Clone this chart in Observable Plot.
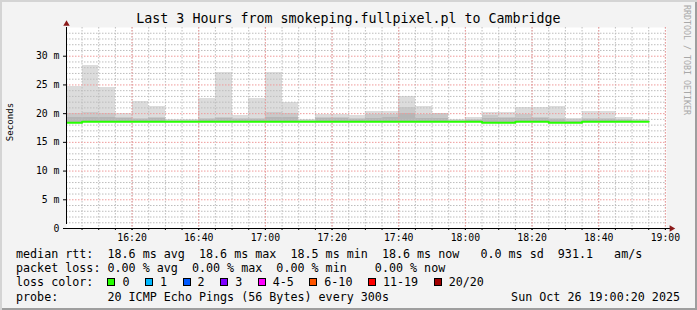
<!DOCTYPE html>
<html>
<head>
<meta charset="utf-8">
<script src="https://cdn.jsdelivr.net/npm/d3@7"></script>
<script src="https://cdn.jsdelivr.net/npm/@observablehq/plot@0.6"></script>
<style>
html,body{margin:0;padding:0;background:#f3f3f3;}
#chart{position:relative;width:697px;height:310px;background:#f3f3f3;overflow:hidden;
  box-shadow:inset 2px 2px 0 #d4d4d4, inset -2px -2px 0 #9e9e9e;
  font-family:"DejaVu Sans Mono",monospace;color:#000;}
#chart svg{position:absolute;left:0;top:0;}
#title{position:absolute;left:0;top:11px;width:697px;text-align:center;font-size:13.3px;line-height:16px;white-space:pre;}
.rot{position:absolute;white-space:pre;transform:translate(-50%,-50%) rotate(-90deg);}
#ylabel{left:10px;top:122px;font-size:9.1px;}
#wm{left:687px;top:60px;font-size:8.3px;color:#a8a8a8;transform:translate(-50%,-50%) rotate(90deg);}
#legend{position:absolute;left:16px;top:247px;font-size:11.7px;line-height:14.2px;white-space:pre;margin:0;}
#legend .row{height:14.2px;display:flex;align-items:center;}
.box{display:inline-block;width:8px;height:8px;box-sizing:border-box;border:1px solid #000;margin-right:7px;}
.lab{margin-right:15.5px;}
#date{position:absolute;right:17px;top:289.6px;font-size:11.7px;line-height:14.2px;white-space:pre;}
</style>
</head>
<body>
<div id="chart">
  <div id="title"></div>
  <div id="ylabel" class="rot"></div>
  <div id="wm" class="rot"></div>
  <div id="legend"></div>
  <div id="date"></div>
</div>
<script>
// ---- data (ms), one value per 5-minute slot starting 16:00 UTC ----
const titleText = "Last 3 Hours from smokeping.fullpixel.pl to Cambridge";
const yLabel = "Seconds";
const watermark = "RRDTOOL / TOBI OETIKER";
const slotStart = "2025-10-26T16:00:00Z";
const viewStart = "2025-10-26T16:00:20Z";
const viewEnd = "2025-10-26T19:00:20Z";

const maxRtt = [24.8, 28.4, 24.6, 20.1, 22.2, 21.2, 19.0, 19.0, 22.7, 27.1, 19.7, 22.7, 27.1, 22.0, 19.0, 19.8, 19.8, 19.7, 20.4, 20.3, 22.9, 21.3, 20.05, 18.9, 19.4, 20.2, 20.2, 21.0, 21.1, 21.3, 19.1, 20.4, 20.4, 19.4, 19.0];
const ping19 = [20.1, 20.2, 20.0, 19.4, 19.2, 19.4, 18.8, 18.8, 19.2, 19.4, 19.1, 19.2, 20.2, 20.1, 18.8, 19.4, 19.4, 19.1, 19.8, 19.9, 21.0, 19.8, 20.0, 18.8, 19.0, 19.6, 19.4, 19.8, 19.4, 19.1, 18.9, 19.1, 19.2, 19.0, 18.8];
const ping18 = [19.4, 19.4, 19.4, 19.1, 19.0, 19.1, 18.7, 18.7, 19.0, 19.1, 18.9, 19.0, 19.4, 19.3, 18.7, 19.1, 19.1, 18.9, 19.2, 19.4, 20.05, 19.2, 19.2, 18.7, 18.8, 19.2, 19.1, 19.2, 19.1, 18.9, 18.7, 18.9, 18.9, 18.8, 18.7];
const medianRtt = [18.4, 18.6, 18.6, 18.6, 18.6, 18.6, 18.6, 18.6, 18.6, 18.6, 18.6, 18.6, 18.6, 18.6, 18.6, 18.6, 18.6, 18.6, 18.6, 18.6, 18.6, 18.6, 18.6, 18.6, 18.6, 18.4, 18.4, 18.6, 18.6, 18.4, 18.4, 18.6, 18.6, 18.6, 18.6];

const yTicks = [0, 5, 10, 15, 20, 25, 30];
const xTickLabels = ["16:20", "16:40", "17:00", "17:20", "17:40", "18:00", "18:20", "18:40", "19:00"];

const legendLine1 = "median rtt:  18.6 ms avg  18.6 ms max  18.5 ms min  18.6 ms now   0.0 ms sd  931.1   am/s";
const legendLine2 = "packet loss: 0.00 % avg  0.00 % max  0.00 % min    0.00 % now";
const lossLabels = ["0", "1", "2", "3", "4-5", "6-10", "11-19", "20/20"];
const lossColors = ["#26ff00", "#00b8ff", "#0059ff", "#7e00ff", "#ff00ff", "#ff5500", "#ff0000", "#a00000"];
const legendLine4 = "probe:       20 ICMP Echo Pings (56 Bytes) every 300s";
const dateText = "Sun Oct 26 19:00:20 2025";

// ---- build ----
const step = 5 * 60 * 1000;
const t0 = new Date(slotStart);
const rows = maxRtt.map((m, i) => ({
  t1: new Date(+t0 + i * step), t2: new Date(+t0 + (i + 1) * step),
  max: m, p19: ping19[i], p18: ping18[i], med: medianRtt[i]
}));
const medLine = rows.map(r => ({t: r.t1, v: r.med}));
medLine.push({t: rows[rows.length - 1].t2, v: rows[rows.length - 1].med});

const xMajor = xTickLabels.map(s => new Date(`2025-10-26T${s}:00Z`));
const xMinor = d3.utcMinute.every(5).range(new Date(viewStart), new Date(viewEnd));
const yMinor = d3.range(1, 36).filter(v => v % 5 !== 0);
const fmtTime = d3.utcFormat("%H:%M");

const minorGrid = {stroke: "#bdbdbd", strokeOpacity: 1, strokeDasharray: "1.5,1.5"};
const majorGrid = {stroke: "#ef9a9a", strokeOpacity: 1, strokeDasharray: "1.5,1.5"};

const chart = Plot.plot({
  width: 697, height: 250,
  marginLeft: 66, marginRight: 31, marginTop: 27, marginBottom: 22,
  style: {background: "transparent", fontFamily: '"DejaVu Sans Mono", monospace', fontSize: "9.8px", color: "#000", overflow: "visible"},
  x: {type: "utc", domain: [new Date(viewStart), new Date(viewEnd)], label: null},
  y: {domain: [0, 35], label: null},
  marks: [
    Plot.frame({fill: "white", stroke: "none"}),
    Plot.rectY(rows, {x1: "t1", x2: "t2", y1: "med", y2: "max", fill: "#dcdcdc", clip: true, shapeRendering: "crispEdges"}),
    Plot.rectY(rows, {x1: "t1", x2: "t2", y1: "med", y2: "p19", fill: "#c9c9c9", clip: true, shapeRendering: "crispEdges"}),
    Plot.rectY(rows, {x1: "t1", x2: "t2", y1: "med", y2: "p18", fill: "#b6b6b6", clip: true, shapeRendering: "crispEdges"}),
    Plot.gridY(yMinor, minorGrid),
    Plot.gridX(xMinor, minorGrid),
    Plot.gridY(yTicks.filter(v => v > 0), majorGrid),
    Plot.gridX(xMajor, majorGrid),
    Plot.line(medLine, {x: "t", y: "v", curve: "step-after", stroke: "#26ff00", strokeWidth: 2, clip: true}),
    Plot.ruleY([0], {stroke: "#000", insetLeft: -3, insetRight: -5}),
    Plot.ruleX([new Date(viewStart)], {y1: 0, y2: 35, stroke: "#000", insetTop: -4}),
    Plot.dot([0], {frameAnchor: "top-left", symbol: "triangle", r: 2.4, fill: "#8b1a1a", stroke: "none", dy: -3.5}),
    Plot.dot([0], {frameAnchor: "bottom-right", symbol: "triangle", r: 2.4, fill: "#8b1a1a", stroke: "none", dx: 5, rotate: 90}),
    Plot.axisY({ticks: yTicks, tickSize: 3, tickPadding: 4, tickFormat: v => v === 0 ? "0" : `${v} m`, label: null}),
    Plot.axisX({ticks: xMinor, tickSize: 2, tickFormat: () => "", label: null}),
    Plot.axisX({ticks: xMajor, tickSize: 2, tickPadding: 4, tickFormat: fmtTime, label: null})
  ]
});
document.getElementById("chart").appendChild(chart);

document.getElementById("title").textContent = titleText;
document.getElementById("ylabel").textContent = yLabel;
document.getElementById("wm").textContent = watermark;
document.getElementById("date").textContent = dateText;

const legend = document.getElementById("legend");
function row(text) { const d = document.createElement("div"); d.className = "row"; d.textContent = text; legend.appendChild(d); return d; }
row(legendLine1);
row(legendLine2);
const r3 = row("loss color:  ");
lossLabels.forEach((lab, i) => {
  const b = document.createElement("span"); b.className = "box"; b.style.background = lossColors[i]; r3.appendChild(b);
  const t = document.createElement("span"); t.className = "lab"; t.textContent = lab; r3.appendChild(t);
});
row(legendLine4);
</script>
</body>
</html>
